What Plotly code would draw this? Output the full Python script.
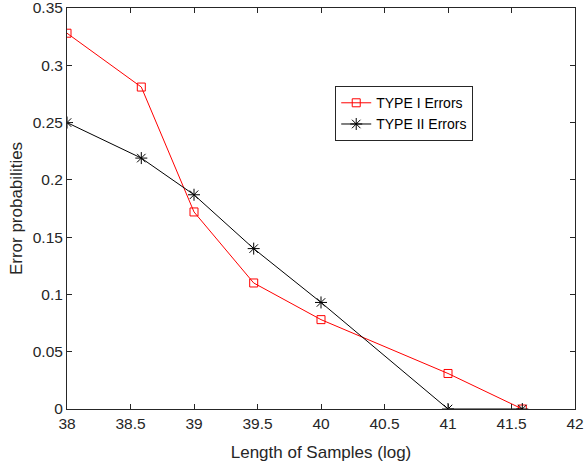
import plotly.graph_objects as go

x_vals = [38, 38.585, 39, 39.47, 40, 41, 41.585]
type1 = [0.328, 0.281, 0.172, 0.110, 0.078, 0.031, 0.0]
type2 = [0.250, 0.219, 0.187, 0.140, 0.093, 0.0, 0.0]

x_ticks = [38, 38.5, 39, 39.5, 40, 40.5, 41, 41.5, 42]
x_ticktext = ["38", "38.5", "39", "39.5", "40", "40.5", "41", "41.5", "42"]
y_ticks = [0, 0.05, 0.1, 0.15, 0.2, 0.25, 0.3, 0.35]
y_ticktext = ["0", "0.05", "0.1", "0.15", "0.2", "0.25", "0.3", "0.35"]

fig = go.Figure()
fig.add_trace(go.Scatter(x=x_vals, y=type1, mode="lines+markers", name="TYPE I Errors",
                         line=dict(color="#ff0000", width=1),
                         marker=dict(symbol="square-open", size=8, color="#ff0000", line=dict(width=1))))
fig.add_trace(go.Scatter(x=x_vals, y=type2, mode="lines+markers", name="TYPE II Errors",
                         line=dict(color="#000000", width=1),
                         marker=dict(symbol="asterisk-open", size=10, color="#000000", line=dict(width=1, color="#000000"))))

axis_common = dict(showline=True, linecolor="#262626", linewidth=1, mirror="ticks",
                   ticks="inside", ticklen=5, tickcolor="#262626", showgrid=False, zeroline=False,
                   automargin=False, ticklabeloverflow="allow",
                   tickfont=dict(family="Liberation Sans, Arial", size=15.5, color="#262626"))

fig.update_layout(
    width=585, height=464,
    margin=dict(l=67, r=10, t=8, b=55),
    paper_bgcolor="white", plot_bgcolor="white",
    font=dict(family="Liberation Sans, Arial", color="#262626"),
    xaxis=dict(range=[38, 42], tickmode="array", tickvals=x_ticks, ticktext=x_ticktext,
               title=dict(text="Length of Samples (log)", font=dict(size=17), standoff=15), **axis_common),
    yaxis=dict(range=[0, 0.35], tickmode="array", tickvals=y_ticks, ticktext=y_ticktext,
               title=dict(text="Error probabilities", font=dict(size=17), standoff=5), **axis_common),
    legend=dict(x=0.528, y=0.805, xanchor="left", yanchor="top",
                bordercolor="#262626", borderwidth=1, bgcolor="white",
                font=dict(size=14, color="#000000"), tracegroupgap=0),
    showlegend=True,
)

fig.write_html("out.html", config={"displayModeBar": False},
               post_script="document.body.style.margin='0';")
